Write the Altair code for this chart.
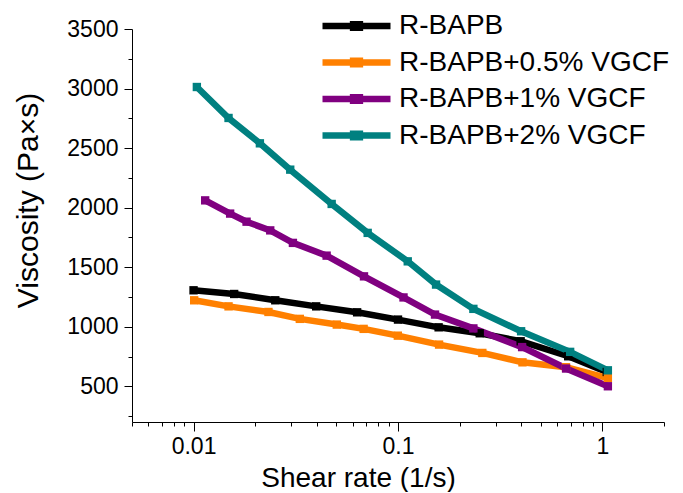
import altair as alt
import pandas as pd

series_names = ["R-BAPB", "R-BAPB+0.5% VGCF", "R-BAPB+1% VGCF", "R-BAPB+2% VGCF"]
series_colors = ["#000000", "#FF8000", "#800080", "#008080"]

shear_black = [0.0100, 0.0158, 0.0251, 0.0398, 0.0631, 0.1000, 0.158, 0.251, 0.398, 0.680, 1.050]
visc_black = [1306, 1275, 1222, 1171, 1121, 1060, 995, 945, 878, 752, 620]

shear_orange = [0.01007, 0.01483, 0.02325, 0.0331, 0.0502, 0.0679, 0.0998, 0.1588, 0.2585, 0.4063, 0.6632, 1.063]
visc_orange = [1222, 1171, 1124, 1066, 1018, 982, 925, 850, 780, 701, 660, 568]

shear_purple = [0.0114, 0.0151, 0.01817, 0.02372, 0.03062, 0.04477, 0.06818, 0.1064, 0.1517, 0.2337, 0.4046, 0.664, 1.063]
visc_purple = [2061, 1950, 1882, 1809, 1704, 1597, 1423, 1246, 1102, 986, 829, 649, 500]

shear_teal = [0.01038, 0.01483, 0.02111, 0.02971, 0.04738, 0.07108, 0.1116, 0.1535, 0.2337, 0.400, 0.695, 1.063]
visc_teal = [3013, 2753, 2540, 2319, 2031, 1788, 1549, 1354, 1150, 962, 789, 634]

x_tick_values = [0.005, 0.006, 0.007, 0.008, 0.009,
                 0.01, 0.02, 0.03, 0.04, 0.05, 0.06, 0.07, 0.08, 0.09,
                 0.1, 0.2, 0.3, 0.4, 0.5, 0.6, 0.7, 0.8, 0.9,
                 1, 2]
y_tick_values = [250, 500, 750, 1000, 1250, 1500, 1750, 2000, 2250, 2500,
                 2750, 3000, 3250, 3500]

rows = []
for name, xs, ys in zip(series_names,
                        [shear_black, shear_orange, shear_purple, shear_teal],
                        [visc_black, visc_orange, visc_purple, visc_teal]):
    for i, (xv, yv) in enumerate(zip(xs, ys)):
        rows.append({"series": name, "shear": xv, "visc": yv, "order": i})
df = pd.DataFrame(rows)

FONT = "Liberation Sans"
x_major = "datum.value == 0.01 || datum.value == 0.1 || datum.value == 1"
y_major = "datum.value % 500 == 0"

x_axis = alt.Axis(
    values=x_tick_values, format="~g",
    labelExpr=f"({x_major}) ? datum.label : ''",
    tickSize={"condition": {"test": x_major, "value": 9}, "value": 4},
    labelPadding=4, labelFontSize=23, labelFont=FONT, labelColor="black",
    labelFlush=False, labelOverlap=False,
    domainColor="black", tickColor="black", domainWidth=1, tickWidth=1,
    grid=False,
    title="Shear rate (1/s)", titleFont=FONT, titleFontSize=28,
    titleFontWeight="normal", titleColor="black",
    titleX=226, titleY=64, titleAlign="center", titleBaseline="alphabetic",
)

y_axis = alt.Axis(
    values=y_tick_values, format="d",
    labelExpr=f"({y_major}) ? datum.label : ''",
    tickSize={"condition": {"test": y_major, "value": 8}, "value": 4},
    labelPadding=6, labelFontSize=23, labelFont=FONT, labelColor="black",
    labelFlush=False, labelOverlap=False,
    domainColor="black", tickColor="black", domainWidth=1, tickWidth=1,
    grid=False,
    title="Viscosity (Pa×s)", titleFont=FONT, titleFontSize=30,
    titleFontWeight="normal", titleColor="black",
    titleX=-104, titleY=171, titleAlign="center", titleBaseline="middle",
    titleAngle=270,
)

legend = alt.Legend(
    title=None, orient="none", legendX=187, legendY=-18,
    symbolType="M-1,0H1M-0.1,-0.05H0.1V0.05H-0.1Z",
    symbolSize=4624, symbolStrokeWidth=6.5, clipHeight=30, rowPadding=6.5,
    labelFontSize=28, labelFont=FONT, labelColor="black", labelOffset=5,
    padding=0, labelLimit=400,
)

chart = alt.Chart(df).mark_line(
    strokeWidth=6.5,
    point=alt.OverlayMarkDef(shape="square", filled=True, size=70, opacity=1),
).encode(
    x=alt.X("shear:Q", scale=alt.Scale(type="log", domain=[0.005, 2], nice=False), axis=x_axis),
    y=alt.Y("visc:Q", scale=alt.Scale(domain=[200, 3500], nice=False, zero=False), axis=y_axis),
    color=alt.Color("series:N", scale=alt.Scale(domain=series_names, range=series_colors), legend=legend),
    order="order:Q",
).properties(
    width=532, height=393,
    autosize=alt.AutoSizeParams(type="none"),
    padding={"left": 124, "top": 21, "right": 11, "bottom": 70},
).configure_view(stroke=None)

chart.save("out.html", embed_options={"renderer": "svg", "actions": False})
